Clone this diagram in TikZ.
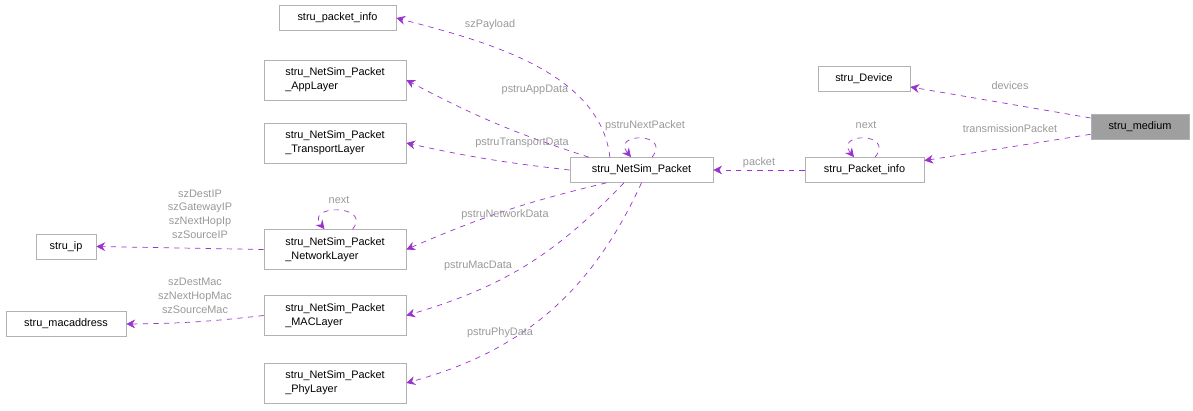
\documentclass[tikz,border=0pt]{standalone}
\usepackage{fontspec}
\setmainfont{Liberation Sans}
\usetikzlibrary{arrows.meta,positioning}
\definecolor{edgecol}{HTML}{9A32CD}
\tikzset{
  box/.style={draw=gray!60, fill=white, inner sep=2pt, align=left,
    font=\fontsize{6.2}{7.8}\selectfont, minimum height=0.5cm},
  edge/.style={draw=edgecol, dashed, thin, -{Stealth[length=5pt,width=5pt]}},
  lbl/.style={text=gray!80, font=\fontsize{6.2}{7.8}\selectfont, inner sep=0pt, align=center}
}
\begin{document}
\begin{tikzpicture}[x=0.02cm,y=-0.02cm]
  \useasboundingbox (0,0) rectangle (1193,411);
  % nodes
  \node[box, fill=gray!75, minimum width=1.96cm] (medium) at (1140,126.5) {stru\_medium};
  \node[box, minimum width=1.84cm] (device) at (864,79) {stru\_Device};
  \node[box, minimum width=2.38cm] (pinfo) at (864.5,170) {stru\_Packet\_info};
  \node[box, minimum width=2.86cm] (packet) at (641.5,170) {stru\_NetSim\_Packet};
  \node[box, minimum width=2.34cm] (payload) at (337.5,18) {stru\_packet\_info};
  \node[box, minimum width=2.84cm, minimum height=0.8cm] (app) at (335,80) {stru\_NetSim\_Packet\\\_AppLayer};
  \node[box, minimum width=2.84cm, minimum height=0.8cm] (trans) at (335,143) {stru\_NetSim\_Packet\\\_TransportLayer};
  \node[box, minimum width=2.84cm, minimum height=0.8cm] (net) at (335,249.5) {stru\_NetSim\_Packet\\\_NetworkLayer};
  \node[box, minimum width=2.84cm, minimum height=0.8cm] (mac) at (335,315.5) {stru\_NetSim\_Packet\\\_MACLayer};
  \node[box, minimum width=2.84cm, minimum height=0.8cm] (phy) at (335,383) {stru\_NetSim\_Packet\\\_PhyLayer};
  \node[box, minimum width=1.2cm] (ip) at (66,246.5) {stru\_ip};
  \node[box, minimum width=2.4cm] (macaddr) at (66,324) {stru\_macaddress};
  % edges
  \draw[edge] (medium) -- (device);
  \node[lbl] (ldev) at (1010,86) {devices};
  \draw[edge] (medium) -- (pinfo);
  \node[lbl] (ltrp) at (1010,129) {transmissionPacket};
  \draw[edge] (pinfo) -- node[lbl, above=1pt] {packet} (packet);
  \draw[edge] ([xshift=6pt]pinfo.north) .. controls +(0.4cm,0.5cm) and +(-0.4cm,0.5cm) .. ([xshift=-6pt]pinfo.north);
  \node[lbl] (nextlbl) at (866,125) {next};
  \draw[edge] ([xshift=6pt]packet.north) .. controls +(0.4cm,0.5cm) and +(-0.4cm,0.5cm) .. ([xshift=-6pt]packet.north);
  \node[lbl] (nextpkt) at (645,126) {pstruNextPacket};
  \draw[edge] ([xshift=-18pt]packet.north) .. controls (600,70) and (480,40) .. (payload.east);
  \node[lbl] (lpay) at (490,25) {szPayload};
  \draw[edge] ([xshift=-30pt]packet.north) to[bend left=5] (app.east);
  \node[lbl] (lapp) at (535,90) {pstruAppData};
  \draw[edge] (packet.west) to[bend left=3] (trans.east);
  \node[lbl] (ltrans) at (522,143) {pstruTransportData};
  \draw[edge] ([xshift=-20pt]packet.south) to[bend right=5] (net.east);
  \node[lbl] (lnet) at (505,215) {pstruNetworkData};
  \draw[edge] ([xshift=-10pt]packet.south) to[bend left=15] (mac.east);
  \node[lbl] (lmac) at (478,266) {pstruMacData};
  \draw[edge] (packet.south) to[bend left=25] (phy.east);
  \node[lbl] (lphy) at (500,333) {pstruPhyData};
  \draw[edge] ([xshift=10pt]net.north) .. controls +(0.4cm,0.5cm) and +(-0.4cm,0.5cm) .. ([xshift=-6pt]net.north);
  \node[lbl] (nextnet) at (339,200) {next};
  \draw[edge] (net.west) -- (ip.east);
  \node[lbl] (lip) at (200,214) {szDestIP\\szGatewayIP\\szNextHopIp\\szSourceIP};
  \draw[edge] (mac.west) to[bend left=3] (macaddr.east);
  \node[lbl] (lmacaddr) at (195,296) {szDestMac\\szNextHopMac\\szSourceMac};
\end{tikzpicture}
\end{document}
